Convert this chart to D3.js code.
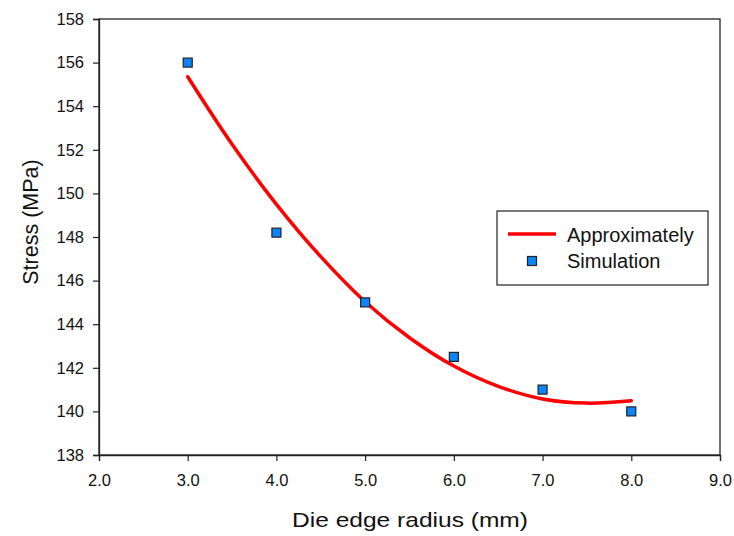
<!DOCTYPE html>
<html>
<head>
<meta charset="utf-8">
<script src="https://cdn.jsdelivr.net/npm/d3@7"></script>
<style>
  body { margin: 0; background: #fff; }
  text { font-family: "Liberation Sans", Arial, sans-serif; fill: #111; }
</style>
</head>
<body>
<div id="chart"></div>
<script>
// simulation points
var simRadius = [3.0, 4.0, 5.0, 6.0, 7.0, 8.0];
var simStress = [156.0, 148.2, 145.0, 142.5, 141.0, 140.0];

// approximation curve
var fitRadius = [3.0, 3.5, 4.0, 4.5, 5.0, 5.5, 6.0, 6.5, 7.0, 7.5, 8.0];
var fitStress = [155.35, 152.25, 149.5, 147.1, 145.03, 143.38, 142.08, 141.15, 140.57, 140.38, 140.49];

var xTicks = [2, 3, 4, 5, 6, 7, 8, 9];
var yTicks = [138, 140, 142, 144, 146, 148, 150, 152, 154, 156, 158];

var W = 734, H = 536;
var margin = {top: 19, right: 14, bottom: 81, left: 99},
    width = W - margin.left - margin.right,
    height = H - margin.top - margin.bottom;

var svg = d3.select("#chart")
  .append("svg")
  .attr("width", W)
  .attr("height", H)
  .append("g")
    .attr("transform", "translate(" + margin.left + "," + margin.top + ")");

var x = d3.scaleLinear().domain([2, 9]).range([0, width]);
var y = d3.scaleLinear().domain([138, 158]).range([height, 0]);

// frame
svg.append("rect")
  .attr("width", width)
  .attr("height", height)
  .attr("fill", "none")
  .attr("stroke", "#222")
  .attr("stroke-width", 1.3);

var xAxis = svg.append("g")
  .attr("transform", "translate(0," + height + ")")
  .call(d3.axisBottom(x).tickValues(xTicks).tickSize(6).tickPadding(13).tickFormat(d3.format(".1f")));

var yAxis = svg.append("g")
  .call(d3.axisLeft(y).tickValues(yTicks).tickSize(6).tickPadding(9).tickFormat(d3.format("d")));

[xAxis, yAxis].forEach(function(a) {
  a.select(".domain").attr("stroke", "#222").attr("stroke-width", 1.3);
  a.selectAll(".tick line").attr("stroke", "#222").attr("stroke-width", 1.2);
  a.selectAll(".tick text")
    .attr("font-size", 16.5)
    .attr("font-family", "Liberation Sans, Arial, sans-serif")
    .attr("fill", "#111");
});

// axis titles
svg.append("text")
  .attr("text-anchor", "middle")
  .attr("x", 311)
  .attr("y", 508)
  .attr("font-size", 21)
  .attr("textLength", 236)
  .attr("lengthAdjust", "spacingAndGlyphs")
  .text("Die edge radius (mm)");

svg.append("text")
  .attr("text-anchor", "middle")
  .attr("transform", "translate(-61," + 203 + ") rotate(-90)")
  .attr("font-size", 21.5)
  .text("Stress (MPa)");

// the fitted line
var fitData = fitRadius.map(function(r, i) { return {r: r, s: fitStress[i]}; });
svg.append("path")
  .datum(fitData)
  .attr("fill", "none")
  .attr("stroke", "#ff0000")
  .attr("stroke-width", 3.5)
  .attr("stroke-linecap", "round")
  .attr("d", d3.line()
    .curve(d3.curveCatmullRom)
    .x(function(d) { return x(d.r); })
    .y(function(d) { return y(d.s); }));

// simulation markers
var sz = 9;
svg.selectAll(".sim")
  .data(simRadius.map(function(r, i) { return {r: r, s: simStress[i]}; }))
  .enter().append("rect")
    .attr("class", "sim")
    .attr("x", function(d) { return x(d.r) - sz / 2; })
    .attr("y", function(d) { return y(d.s) - sz / 2; })
    .attr("width", sz)
    .attr("height", sz)
    .attr("fill", "#0a84ff")
    .attr("stroke", "#222")
    .attr("stroke-width", 1.2);

// legend
var lg = svg.append("g").attr("transform", "translate(" + (497 - margin.left) + "," + (211 - margin.top) + ")");
lg.append("rect")
  .attr("width", 211)
  .attr("height", 74)
  .attr("fill", "#fff")
  .attr("stroke", "#222")
  .attr("stroke-width", 1.2);
lg.append("line")
  .attr("x1", 11).attr("x2", 59)
  .attr("y1", 23).attr("y2", 23)
  .attr("stroke", "#ff0000")
  .attr("stroke-width", 3.5);
lg.append("rect")
  .attr("x", 35 - sz / 2).attr("y", 50 - sz / 2)
  .attr("width", sz).attr("height", sz)
  .attr("fill", "#0a84ff")
  .attr("stroke", "#222")
  .attr("stroke-width", 1.2);
lg.append("text")
  .attr("x", 70).attr("y", 31)
  .attr("font-size", 20)
  .text("Approximately");
lg.append("text")
  .attr("x", 70).attr("y", 57)
  .attr("font-size", 20)
  .text("Simulation");
</script>
</body>
</html>
